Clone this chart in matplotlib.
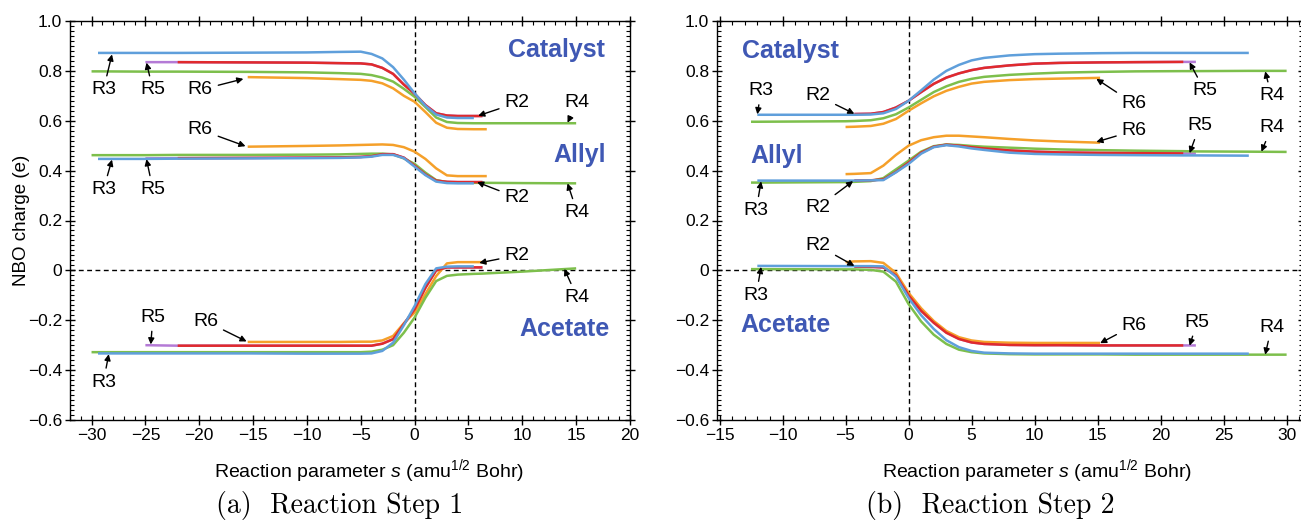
import numpy as np
import matplotlib.pyplot as plt
from matplotlib.ticker import MultipleLocator, FuncFormatter

plt.rcParams['font.family'] = ['Liberation Sans', 'DejaVu Sans']
plt.rcParams['mathtext.fontset'] = 'custom'
plt.rcParams['mathtext.rm'] = 'Liberation Sans'
plt.rcParams['mathtext.it'] = 'Liberation Sans:italic'

N = None

# ---- Reaction step 1 (reaction parameter s, NBO charge) ----
s1 = [-30, -29.4, -25, -22, -15.5, -10, -7, -5, -4, -3, -2, -1, 0, 1, 2, 3, 4, 5.5, 6.3, 6.7, 10, 15]

s1_cat_R3 = [N, .872, .872, .872, .873, .874, .876, .877, .868, .850, .815, .765, .710, .660, .625, .613, .611, .611, N, N, N, N]
s1_cat_R2 = [N, N, N, .835, .834, .833, .831, .830, .826, .812, .788, .745, .708, .663, .630, .621, .619, .619, .619, N, N, N]
s1_cat_R5 = [N, N, .835, .835, .834, .833, .831, .830, .826, .812, .788, .745, .708, .663, .630, .621, .619, .619, .619, N, N, N]
s1_cat_R4 = [.798, .798, .797, .797, .796, .794, .791, .788, .783, .773, .757, .728, .696, .655, .613, .595, .591, .590, .590, .590, .590, .590]
s1_cat_R6 = [N, N, N, N, .775, .771, .767, .764, .760, .750, .730, .700, .676, .635, .592, .572, .567, .566, .566, .566, N, N]

s1_all_R3 = [N, .447, .447, .448, .449, .450, .451, .453, .456, .463, .463, .450, .416, .382, .356, .350, .349, .349, N, N, N, N]
s1_all_R2 = [N, N, N, .450, .451, .452, .453, .455, .458, .466, .466, .452, .420, .385, .360, .355, .354, .354, .354, N, N, N]
s1_all_R5 = [N, N, .449, .450, .451, .452, .453, .455, .458, .466, .466, .452, .420, .385, .360, .355, .354, .354, .354, N, N, N]
s1_all_R4 = [.462, .462, .462, .463, .463, .464, .465, .467, .468, .468, .465, .449, .427, .392, .362, .354, .352, .351, .351, .351, .350, .349]
s1_all_R6 = [N, N, N, N, .496, .499, .501, .503, .504, .505, .503, .494, .476, .447, .409, .381, .378, .378, .378, .378, N, N]

s1_ace_R3 = [N, -.333, -.333, -.333, -.333, -.334, -.334, -.334, -.333, -.323, -.290, -.220, -.143, -.055, .008, .015, .016, .016, N, N, N, N]
s1_ace_R2 = [N, N, N, -.302, -.302, -.302, -.302, -.302, -.302, -.294, -.276, -.215, -.156, -.070, .000, .012, .012, .012, .012, N, N, N]
s1_ace_R5 = [N, N, -.300, -.302, -.302, -.302, -.302, -.302, -.302, -.294, -.276, -.215, -.156, -.070, .000, .012, .012, .012, .012, N, N, N]
s1_ace_R4 = [-.328, -.328, -.328, -.328, -.328, -.328, -.328, -.328, -.326, -.318, -.300, -.250, -.189, -.110, -.043, -.022, -.017, -.014, -.013, -.012, -.005, .008]
s1_ace_R6 = [N, N, N, N, -.287, -.287, -.287, -.286, -.286, -.281, -.263, -.212, -.169, -.095, -.023, .028, .033, .033, .033, .033, N, N]

# ---- Reaction step 2 ----
s2 = [-12.5, -12, -5, -4.3, -3, -2, -1, 0, 1, 2, 3, 4, 5, 6, 8, 10, 12, 15.2, 18, 21.8, 22.8, 27, 30]

s2_cat_R3 = [N, .624, .624, .624, .625, .630, .647, .680, .722, .765, .800, .824, .842, .852, .862, .867, .869, .871, .872, .872, .872, .872, N]
s2_cat_R2 = [N, N, N, .627, .628, .635, .653, .680, .715, .748, .773, .790, .803, .812, .822, .829, .832, .834, .835, .836, N, N, N]
s2_cat_R5 = [N, N, N, .627, .628, .635, .653, .680, .715, .748, .773, .790, .803, .812, .822, .829, .832, .834, .835, .836, .836, N, N]
s2_cat_R4 = [.596, .596, .598, .599, .602, .610, .626, .653, .684, .715, .738, .756, .768, .776, .784, .789, .793, .796, .798, .799, .799, .800, .800]
s2_cat_R6 = [N, N, .575, .576, .579, .588, .607, .640, .670, .698, .720, .736, .749, .756, .763, .767, .769, .772, N, N, N, N, N]

s2_all_R3 = [N, .360, .360, .360, .361, .362, .393, .427, .468, .494, .502, .497, .489, .483, .472, .467, .465, .463, .462, .461, .461, .460, N]
s2_all_R2 = [N, N, N, .360, .361, .365, .395, .432, .472, .496, .504, .500, .494, .489, .481, .476, .473, .471, .470, .469, N, N, N]
s2_all_R5 = [N, N, N, .360, .361, .365, .395, .432, .472, .496, .504, .500, .494, .489, .481, .476, .473, .471, .470, .469, .469, N, N]
s2_all_R4 = [.352, .352, .354, .355, .358, .370, .405, .440, .476, .498, .505, .503, .499, .496, .492, .488, .485, .482, .480, .478, .477, .476, .475]
s2_all_R6 = [N, N, .386, .387, .390, .420, .463, .500, .522, .534, .540, .540, .537, .534, .527, .521, .517, .512, N, N, N, N, N]

s2_ace_R3 = [N, .018, .017, .017, .017, .016, -.025, -.110, -.180, -.235, -.280, -.308, -.323, -.330, -.333, -.334, -.334, -.334, -.334, -.334, -.334, -.334, N]
s2_ace_R2 = [N, N, N, .015, .014, .012, -.020, -.100, -.162, -.210, -.250, -.275, -.289, -.295, -.299, -.300, -.300, -.301, -.301, -.301, N, N, N]
s2_ace_R5 = [N, N, N, .015, .014, .012, -.020, -.100, -.162, -.210, -.250, -.275, -.289, -.295, -.299, -.300, -.300, -.301, -.301, -.301, -.301, N, N]
s2_ace_R4 = [.005, .005, .004, .004, .002, -.005, -.045, -.135, -.205, -.258, -.295, -.318, -.328, -.333, -.336, -.337, -.337, -.337, -.338, -.338, -.338, -.338, -.338]
s2_ace_R6 = [N, N, .033, .036, .037, .030, -.010, -.090, -.152, -.203, -.243, -.268, -.281, -.287, -.290, -.291, -.291, -.291, N, N, N, N, N]

colors = {'R5': '#b47ad6', 'R6': '#f5a02a', 'R4': '#7dbf4c', 'R2': '#e02a2c', 'R3': '#5f9fdb'}
label_blue = '#3f58b4'

fig = plt.figure(figsize=(13.01, 5.2), dpi=100)
W, H = 1301, 520
ax1 = fig.add_axes([70 / W, 1 - 420 / H, 560 / W, 399 / H])
ax2 = fig.add_axes([717 / W, 1 - 420 / H, 586 / W, 399 / H])


def draw(ax, s, groups):
    s = np.array(s, dtype=float)
    for grp in groups:
        for key in ['R5', 'R6', 'R4', 'R2', 'R3']:
            ax.plot(s, np.array(grp[key], dtype=float), color=colors[key], lw=1.8, solid_capstyle='butt')


draw(ax1, s1, [
    {'R3': s1_cat_R3, 'R2': s1_cat_R2, 'R5': s1_cat_R5, 'R4': s1_cat_R4, 'R6': s1_cat_R6},
    {'R3': s1_all_R3, 'R2': s1_all_R2, 'R5': s1_all_R5, 'R4': s1_all_R4, 'R6': s1_all_R6},
    {'R3': s1_ace_R3, 'R2': s1_ace_R2, 'R5': s1_ace_R5, 'R4': s1_ace_R4, 'R6': s1_ace_R6},
])
draw(ax2, s2, [
    {'R3': s2_cat_R3, 'R2': s2_cat_R2, 'R5': s2_cat_R5, 'R4': s2_cat_R4, 'R6': s2_cat_R6},
    {'R3': s2_all_R3, 'R2': s2_all_R2, 'R5': s2_all_R5, 'R4': s2_all_R4, 'R6': s2_all_R6},
    {'R3': s2_ace_R3, 'R2': s2_ace_R2, 'R5': s2_ace_R5, 'R4': s2_ace_R4, 'R6': s2_ace_R6},
])

# arrow labels: (text, tip s, tip q, text s, text q)
notes1 = [
    ('R3', -28.1, 0.866, -28.9, 0.724), ('R5', -24.9, 0.833, -24.3, 0.724),
    ('R6', -15.9, 0.768, -19.9, 0.724), ('R2', 5.9, 0.620, 9.5, 0.672),
    ('R4', 14.2, 0.592, 15.1, 0.672),
    ('R6', -15.7, 0.498, -19.9, 0.564), ('R3', -28.1, 0.444, -28.9, 0.324),
    ('R5', -24.9, 0.446, -24.3, 0.324), ('R2', 5.8, 0.354, 9.5, 0.292),
    ('R4', 14.2, 0.349, 15.1, 0.232),
    ('R5', -24.5, -0.297, -24.3, -0.188), ('R6', -15.6, -0.285, -19.4, -0.204),
    ('R3', -28.4, -0.336, -28.9, -0.448), ('R2', 6.0, 0.030, 9.5, 0.060),
    ('R4', 13.9, 0.006, 15.1, -0.108),
]
notes2 = [
    ('R3', -12.0, 0.626, -11.7, 0.720), ('R2', -4.3, 0.628, -7.2, 0.700),
    ('R6', 14.9, 0.768, 17.9, 0.668), ('R5', 22.3, 0.834, 23.5, 0.720),
    ('R4', 28.3, 0.798, 28.8, 0.700),
    ('R6', 14.9, 0.515, 17.9, 0.560), ('R5', 22.3, 0.470, 23.1, 0.580),
    ('R4', 28.0, 0.476, 28.8, 0.572), ('R3', -11.7, 0.357, -12.1, 0.240),
    ('R2', -4.4, 0.358, -7.2, 0.252),
    ('R2', -4.3, 0.018, -7.2, 0.100), ('R3', -11.7, 0.014, -12.1, -0.100),
    ('R6', 15.2, -0.292, 17.9, -0.220), ('R5', 22.3, -0.302, 22.9, -0.208),
    ('R4', 28.3, -0.338, 28.8, -0.228),
]
groups1 = [('Catalyst', 13.2, 0.884), ('Allyl', 15.3, 0.464), ('Acetate', 13.9, -0.236)]
groups2 = [('Catalyst', -9.4, 0.880), ('Allyl', -10.5, 0.460), ('Acetate', -9.8, -0.220)]


def fmt(v, pos):
    if abs(v) < 1e-9:
        return '0'
    return ('%.1f' % v).replace('-', '\u2212')


for ax, notes, groups, xlim, xmin in [(ax1, notes1, groups1, (-32, 20), -30),
                                      (ax2, notes2, groups2, (-15.2, 31.3), -15)]:
    ax.axvline(0, color='k', lw=1.0, ls=(0, (3.5, 2.5)), zorder=0)
    ax.axhline(0, color='k', lw=1.0, ls=(0, (3.5, 2.5)), zorder=0)
    for t, xs, ys, xt, yt in notes:
        ax.annotate(t, xy=(xs, ys), xytext=(xt, yt), ha='center', va='center', fontsize=14,
                    arrowprops=dict(arrowstyle='-|>', color='k', lw=1.0, shrinkA=2, shrinkB=0,
                                    mutation_scale=9))
    for t, xt, yt in groups:
        ax.text(xt, yt, t, ha='center', va='center', fontsize=18, fontweight='bold', color=label_blue)
    ax.set_xlim(*xlim)
    ax.set_ylim(-0.6, 1.0)
    ax.set_xticks(np.arange(xmin, xlim[1] + 0.1, 5))
    ax.xaxis.set_minor_locator(MultipleLocator(1))
    ax.yaxis.set_major_locator(MultipleLocator(0.2))
    ax.yaxis.set_minor_locator(MultipleLocator(0.02))
    ax.yaxis.set_major_formatter(FuncFormatter(fmt))
    ax.xaxis.set_major_formatter(FuncFormatter(lambda v, p: ('%d' % v).replace('-', '\u2212')))
    ax.tick_params(which='major', direction='inout', length=7, width=1, labelsize=12.5,
                   top=True, right=True, pad=2)
    ax.tick_params(which='minor', direction='in', length=3, width=0.8, top=True, right=True)
    for sp in ax.spines.values():
        sp.set_linewidth(1.0)

ax1.set_xlabel('Reaction parameter $s$ (amu$^{1/2}$ Bohr)', fontsize=14)
ax2.set_xlabel('Reaction parameter $s$ (amu$^{1/2}$ Bohr)', fontsize=14)
ax1.xaxis.set_label_coords(0.534, -0.092)
ax2.xaxis.set_label_coords(0.546, -0.092)
ax1.set_ylabel('NBO charge (e)', fontsize=13.5)
ax1.yaxis.set_label_coords(-0.072, 0.5)

fig.text(340 / W, 1 - 505 / H, '(a)  Reaction Step 1', ha='center', va='center',
         fontsize=20, family='cmr10')
fig.text(990 / W, 1 - 505 / H, '(b)  Reaction Step 2', ha='center', va='center',
         fontsize=20, family='cmr10')

fig.savefig('out.png', dpi=100)
